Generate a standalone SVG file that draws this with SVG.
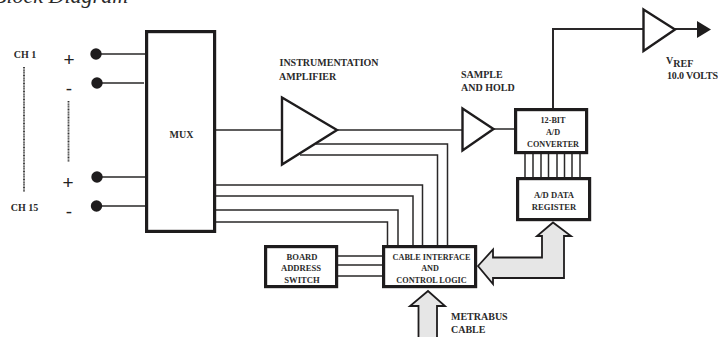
<svg xmlns="http://www.w3.org/2000/svg" width="718" height="349" viewBox="0 0 718 349">
<style>
text{font-family:"Liberation Serif",serif;font-weight:bold;font-size:8.6px;fill:#2a2a2a}
.m{text-anchor:middle}
.l{font-size:10px}
.s{font-size:8.2px}
.box{fill:#fff;stroke:#1e1c1d;stroke-width:3.2}
.tri{fill:#fff;stroke:#1e1c1d;stroke-width:2.4}
.w{fill:none;stroke:#2a2829;stroke-width:1.5}
.dot{fill:#1e1c1d}
.big{fill:#e6e6e6;stroke:#1e1c1d;stroke-width:1.8}
.sign{font-family:"Liberation Sans",sans-serif;font-weight:normal;font-size:19px;fill:#222;text-anchor:middle}
.dash{fill:none;stroke:#333;stroke-width:1.8;stroke-dasharray:1 .6}
</style>
<rect width="718" height="349" fill="#fff"/>
<text x="-7" y="3" style="font-size:22px;font-style:italic;font-weight:normal">Block Diagram</text>
<g id="connectors">
<path class="w" d="M96 54H146M97 83H144M97 177H146M97 206H146"/>
<path class="w" d="M216 130H282M338 130H462M494 129H515"/>
<path class="w" d="M316 144H447.500V245M300 155H437.500V245"/>
<path class="w" d="M216 185H422.500V245M216 196H413V245M216 210H398V245M216 222H387.500V245"/>
<path class="w" d="M338 256H382M338 265H382M338 276H382"/>
<path class="w" style="stroke-width:2" d="M553 108V29H643M675 29H698"/>
<path class="w" d="M525 154V177M533 154V177M541 154V177M548.500 154V177M557 154V177M564.500 154V177M572 154V177M580 154V177"/>
<path class="dash" d="M24 67V192M68.500 101V162"/>
<path d="M697 21L711 29.500L697 38Z" fill="#1e1c1d"/>
<path class="big" d="M478 266L493 249.500V257.500H542V236H537L553 222.500L571 236H564V278H493V284Z"/>
<path class="big" d="M418.500 337V306H410L428 291L445 306H437V337"/>
</g>
<g id="terminals">
<circle class="dot" cx="96" cy="54" r="5.700"/>
<circle class="dot" cx="97" cy="83" r="5.700"/>
<circle class="dot" cx="97" cy="177" r="5.700"/>
<circle class="dot" cx="96.500" cy="206" r="5.700"/>
</g>
<g id="labels-left">
<text class="m l" x="25" y="58">CH 1</text>
<text class="m l" x="24.500" y="211">CH 15</text>
<text class="sign" x="69" y="66">+</text>
<text class="sign" x="69" y="95">-</text>
<text class="sign" x="68" y="189">+</text>
<text class="sign" x="69" y="218">-</text>
</g>
<g id="mux"><rect class="box" x="146.600" y="31.600" width="68" height="199.800"/><text class="m l" x="181.500" y="138">MUX</text></g>
<g id="amplifier"><path class="tri" d="M282 97.500L337 130L282 164.500Z"/>
<text class="l" x="279.500" y="66">INSTRUMENTATION</text><text class="l" x="279" y="80">AMPLIFIER</text></g>
<g id="sample-hold"><path class="tri" d="M462.500 108.500L493.500 129L462.500 150.500Z"/>
<text class="l" x="461" y="78">SAMPLE</text><text class="l" x="461" y="91">AND HOLD</text></g>
<g id="adc"><rect class="box" x="515.600" y="109.600" width="71" height="43"/>
<text class="m s" x="553" y="123">12-BIT</text><text class="m s" x="553" y="135">A/D</text><text class="m s" x="553" y="147">CONVERTER</text></g>
<g id="vref"><path class="tri" d="M643.500 9.500L675 29.500L643.500 51Z"/>
<text class="l" x="666" y="64">V<tspan dy="3">REF</tspan></text><text class="l" x="667" y="79" textLength="51">10.0 VOLTS</text></g>
<g id="register"><rect class="box" x="517.600" y="178.600" width="72" height="41"/>
<text class="m" x="554" y="198">A/D DATA</text><text class="m" x="554" y="210">REGISTER</text></g>
<g id="cable-interface"><rect class="box" x="383.600" y="246.600" width="92" height="40"/>
<text class="m s" x="431.500" y="260">CABLE INTERFACE</text><text class="m s" x="430" y="271">AND</text><text class="m s" x="431.500" y="283">CONTROL LOGIC</text></g>
<g id="board-address"><rect class="box" x="265.600" y="246.600" width="71" height="40"/>
<text class="m" x="302" y="260">BOARD</text><text class="m" x="301" y="271">ADDRESS</text><text class="m" x="302" y="283">SWITCH</text></g>
<g id="metrabus"><text class="l" x="451" y="320">METRABUS</text><text class="l" x="451" y="333">CABLE</text></g>
</svg>
